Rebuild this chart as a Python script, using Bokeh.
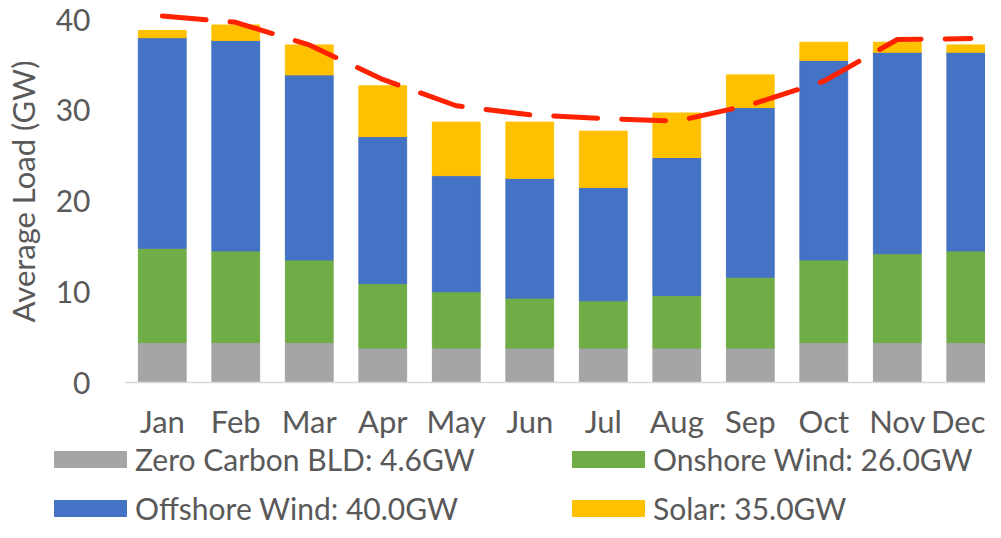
from bokeh.plotting import figure
from bokeh.models import (ColumnDataSource, Range1d, FixedTicker, Legend, LegendItem)
from bokeh.layouts import column
from bokeh.embed import file_html
from bokeh.resources import INLINE

months = ["Jan", "Feb", "Mar", "Apr", "May", "Jun", "Jul", "Aug", "Sep", "Oct", "Nov", "Dec"]
zero_carbon = [4.4, 4.4, 4.4, 3.8, 3.8, 3.8, 3.8, 3.8, 3.8, 4.4, 4.4, 4.4]
onshore = [10.4, 10.1, 9.1, 7.1, 6.2, 5.5, 5.2, 5.8, 7.8, 9.1, 9.8, 10.1]
offshore = [23.2, 23.2, 20.4, 16.2, 12.8, 13.2, 12.5, 15.2, 18.7, 22.0, 22.2, 21.9]
solar = [0.8, 1.7, 3.3, 5.6, 5.9, 6.2, 6.2, 4.9, 3.6, 2.0, 1.1, 0.8]
demand = [40.4, 39.7, 37.2, 33.4, 30.5, 29.5, 29.1, 28.8, 30.6, 33.2, 37.8, 37.9]

series_names = ["zero_carbon", "onshore", "offshore", "solar"]
series_labels = ["Zero Carbon BLD: 4.6GW", "Onshore Wind: 26.0GW",
                 "Offshore Wind: 40.0GW", "Solar: 35.0GW"]
series_colors = ["#A5A5A5", "#70AD47", "#4472C4", "#FFC000"]

FONT = "Lato"
TXT = "#595959"

x = list(range(len(months)))
source = ColumnDataSource(dict(x=x, zero_carbon=zero_carbon, onshore=onshore,
                               offshore=offshore, solar=solar, demand=demand))

# ---- main chart ----
p = figure(width=985, height=442, output_backend="svg", toolbar_location=None,
           x_range=Range1d(-0.5, 11.2), y_range=Range1d(0, 42.1),
           min_border_top=0, min_border_right=0, min_border_bottom=0,
           min_border_left=0)
p.outline_line_color = None
p.xgrid.visible = False
p.ygrid.visible = False

p.vbar_stack(series_names, x="x", width=0.65, color=series_colors, source=source)
p.line("x", "demand", source=source, line_color="#FF2200", line_width=5,
       line_dash="44 24", line_cap="round")

xa = p.xaxis[0]
xa.ticker = FixedTicker(ticks=x)
xa.major_label_overrides = {i: m for i, m in enumerate(months)}
xa.major_tick_line_color = None
xa.major_tick_out = 0
xa.major_tick_in = 0
xa.minor_tick_line_color = None
xa.axis_line_color = "#D9D9D9"
xa.axis_line_width = 1.5
xa.major_label_text_font = FONT
xa.major_label_text_font_size = "31px"
xa.major_label_text_color = TXT
xa.major_label_standoff = 19

ya = p.yaxis[0]
ya.ticker = FixedTicker(ticks=[0, 10, 20, 30, 40])
ya.axis_line_color = None
ya.major_tick_line_color = None
ya.major_tick_out = 0
ya.major_tick_in = 0
ya.minor_tick_line_color = None
ya.major_label_text_font = FONT
ya.major_label_text_font_size = "30px"
ya.major_label_text_color = TXT
ya.major_label_standoff = 35
ya.axis_label = "Average Load (GW)"
ya.axis_label_text_font = FONT
ya.axis_label_text_font_size = "31px"
ya.axis_label_text_font_style = "normal"
ya.axis_label_text_color = TXT
ya.axis_label_standoff = 11

# ---- legend strip ----
p2 = figure(width=985, height=80, output_backend="svg", toolbar_location=None,
            x_range=Range1d(0, 1), y_range=Range1d(0, 1),
            x_axis_type=None, y_axis_type=None,
            min_border_top=0, min_border_right=0, min_border_bottom=0,
            min_border_left=0)
p2.outline_line_color = None
p2.xgrid.visible = False
p2.ygrid.visible = False
proxies = p2.vbar_stack(series_names, x="x", width=0.65, color=series_colors,
                        source=source)
for r in proxies:
    r.visible = False

items = [LegendItem(label=series_labels[i], renderers=[proxies[i]]) for i in range(4)]
legend = Legend(items=items, orientation="horizontal", ncols=2,
                location=(45, -4), glyph_width=90, glyph_height=20,
                label_standoff=0, label_width=415, label_height=34, spacing=13,
                label_text_font=FONT, label_text_font_size="30px",
                label_text_color=TXT, border_line_color=None,
                background_fill_alpha=0, padding=0, margin=0,
                inactive_fill_alpha=0)
p2.add_layout(legend, "center")

layout = column(p, column(p2, spacing=0), spacing=0)
open("out.html", "w").write(file_html(layout, INLINE))
